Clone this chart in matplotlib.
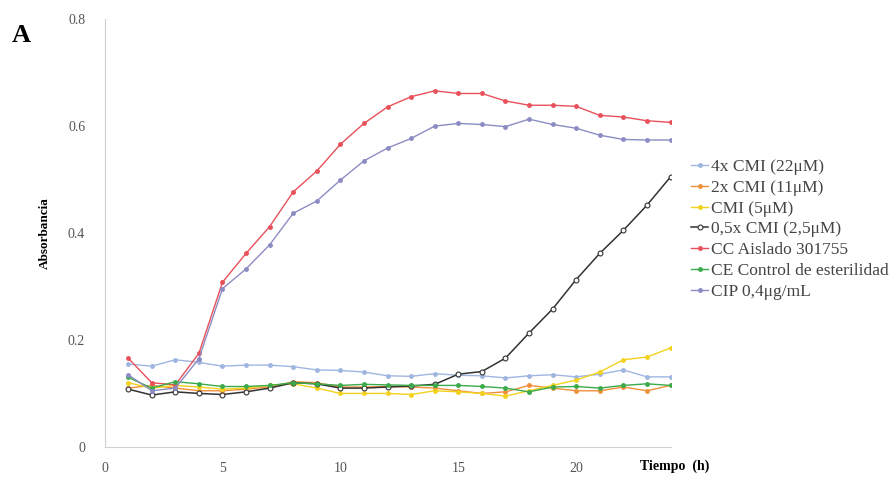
import numpy as np
import matplotlib
matplotlib.use("Agg")
import matplotlib.pyplot as plt

plt.rcParams['font.family'] = ['Liberation Serif', 'DejaVu Serif']

hours = list(range(1, 25))

cmi_4x = [0.155, 0.151, 0.163, 0.158, 0.151, 0.153, 0.153, 0.150, 0.144, 0.143, 0.140, 0.133,
          0.132, 0.137, 0.134, 0.133, 0.129, 0.133, 0.135, 0.131, 0.136, 0.144, 0.131, 0.131]
cmi_2x = [0.110, 0.115, 0.110, 0.105, 0.105, 0.108, 0.112, 0.122, 0.120, 0.112, 0.112, 0.113,
          0.112, 0.110, 0.105, 0.100, 0.103, 0.115, 0.110, 0.105, 0.105, 0.112, 0.105, 0.115]
cmi_1x = [0.120, 0.110, 0.115, 0.112, 0.108, 0.110, 0.115, 0.118, 0.110, 0.100, 0.100, 0.100,
          0.098, 0.105, 0.103, 0.100, 0.095, 0.105, 0.115, 0.125, 0.140, 0.163, 0.168, 0.185]
cmi_05x = [0.108, 0.097, 0.103, 0.100, 0.098, 0.103, 0.110, 0.120, 0.118, 0.110, 0.110, 0.112,
           0.114, 0.117, 0.136, 0.141, 0.166, 0.213, 0.258, 0.313, 0.362, 0.405, 0.452, 0.505]
cc = [0.166, 0.120, 0.116, 0.175, 0.308, 0.362, 0.412, 0.477, 0.516, 0.566, 0.605, 0.636,
      0.655, 0.666, 0.661, 0.661, 0.647, 0.639, 0.639, 0.637, 0.620, 0.617, 0.610, 0.607]
ce = [0.130, 0.110, 0.122, 0.118, 0.113, 0.113, 0.115, 0.120, 0.118, 0.115, 0.117, 0.116,
      0.115, 0.115, 0.115, 0.113, 0.110, 0.103, 0.112, 0.113, 0.110, 0.115, 0.118, 0.115]
cip = [0.135, 0.105, 0.110, 0.165, 0.296, 0.333, 0.378, 0.437, 0.460, 0.499, 0.535, 0.559,
       0.577, 0.600, 0.605, 0.603, 0.599, 0.613, 0.603, 0.596, 0.583, 0.575, 0.574, 0.574]

labels = ["4x CMI (22\u03bcM)", "2x CMI (11\u03bcM)", "CMI (5\u03bcM)", "0,5x CMI (2,5\u03bcM)",
          "CC Aislado 301755", "CE Control de esterilidad", "CIP 0,4\u03bcg/mL"]
series = [cmi_4x, cmi_2x, cmi_1x, cmi_05x, cc, ce, cip]
colors = ["#9fb6e0", "#f0903a", "#f2d21c", "#333333", "#e8505a", "#3aaa4a", "#8c8cc4"]

fig = plt.figure(figsize=(8.94, 4.79), dpi=100)
ax = fig.add_axes([0.117, 0.067, 0.633, 0.893])

for vals, lab, c in zip(series, labels, colors):
    if c == "#333333":
        ax.plot(hours, vals, color=c, lw=1.1, marker='o', ms=3.5, mfc='white', mec=c, mew=0.8, label=lab)
    else:
        ax.plot(hours, vals, color=c, lw=1.0, marker='o', ms=2.5, label=lab)

ax.set_xlim(0, 24)
ax.set_ylim(0, 0.8)
ax.set_xticks([0, 5, 10, 15, 20])
ax.set_yticks([0, 0.2, 0.4, 0.6, 0.8])
ax.set_yticklabels(["0", "0.2", "0.4", "0.6", "0.8"])
ax.tick_params(length=0, labelsize=10, colors="#555555")
ax.tick_params(axis="y", pad=14)
ax.tick_params(axis="x", pad=11)
for s in ["top", "right"]:
    ax.spines[s].set_visible(False)
for s in ["left", "bottom"]:
    ax.spines[s].set_color("#d0d0d0")

ax.set_ylabel("Absorbancia", fontsize=9.5, fontweight="bold", labelpad=12)
fig.text(0.716, 0.027, "Tiempo  (h)", fontsize=10, fontweight="bold", ha="left", va="center")
fig.text(0.013, 0.925, "A", fontsize=19, fontweight="bold", ha="left", va="center")

fig.legend(loc="upper left", bbox_to_anchor=(0.765, 0.683), frameon=False, fontsize=12.5,
           handlelength=1.0, handletextpad=0.15, labelspacing=0.27, labelcolor="#444444",
           borderaxespad=0)

fig.savefig("out.png", dpi=100)
